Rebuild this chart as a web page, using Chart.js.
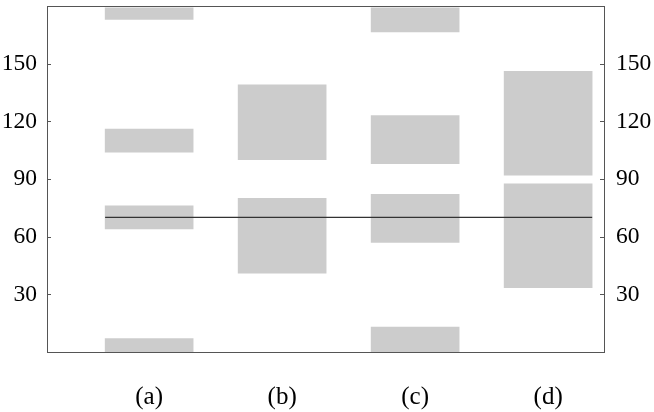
<!DOCTYPE html>
<html>
<head>
<meta charset="utf-8">
<script src="https://cdn.jsdelivr.net/npm/chart.js@4"></script>
<style>
  html, body { margin: 0; padding: 0; background: #fff; }
  canvas { display: block; }
</style>
</head>
<body>
<canvas id="c" width="654" height="412"></canvas>
<script>
// ---- data ----
const categories = ['(a)', '(b)', '(c)', '(d)'];
const rangesA = [[0, 7], [64, 76], [104, 116], [173, 179]];
const rangesB = [[41, 80], [100, 139]];
const rangesC = [[0, 13], [57, 82], [98, 123], [166.5, 179]];
const rangesD = [[33.5, 87.5], [92, 146]];
const referenceLevel = 70;
const yTicks = [30, 60, 90, 120, 150];

// ---- build ----
const allRanges = [rangesA, rangesB, rangesC, rangesD];
const barPoints = [];
allRanges.forEach((list, i) => {
  list.forEach(r => barPoints.push({ x: i + 1, y: r }));
});

const BAR_PX = 88;
const X_MIN = 0.232, X_MAX = 4.42;
const halfBarUnits = 0.331;
const refLine = [
  { x: 1 - halfBarUnits, y: referenceLevel },
  { x: categories.length + halfBarUnits, y: referenceLevel }
];

const frameColor = '#555555';
const tickFont = { family: "'Liberation Serif', 'DejaVu Serif', serif", size: 23.5 };
const catFont = { family: "'Liberation Serif', 'DejaVu Serif', serif", size: 25 };

const innerTicks = {
  id: 'innerTicks',
  afterDraw(chart) {
    const ctx = chart.ctx;
    const a = chart.chartArea;
    const ys = chart.scales.y;
    ctx.save();
    ctx.strokeStyle = frameColor;
    ctx.lineWidth = 1;
    yTicks.forEach(v => {
      const py = Math.round(ys.getPixelForValue(v)) + 0.5;
      ctx.beginPath();
      ctx.moveTo(a.left, py); ctx.lineTo(a.left + 4, py);
      ctx.moveTo(a.right, py); ctx.lineTo(a.right - 4, py);
      ctx.stroke();
    });
    ctx.restore();
  }
};

const labelCb = function (value) {
  return yTicks.includes(value) ? String(value) : '';
};
const zeroPad = s => { s.paddingTop = 0; s.paddingBottom = 0; s.paddingLeft = 0; s.paddingRight = 0; };

new Chart(document.getElementById('c'), {
  data: {
    datasets: [
      {
        type: 'line',
        data: refLine,
        borderColor: '#333333',
        borderWidth: 1.2,
        pointRadius: 0,
        order: 0,
        xAxisID: 'x',
        yAxisID: 'y'
      },
      {
        type: 'bar',
        data: barPoints,
        backgroundColor: '#cccccc',
        borderWidth: 0,
        barThickness: BAR_PX,
        grouped: false,
        order: 1,
        xAxisID: 'x',
        yAxisID: 'y'
      }
    ]
  },
  options: {
    responsive: false,
    animation: false,
    events: [],
    layout: { padding: { top: 6, left: 0, right: 0, bottom: 0 } },
    plugins: { legend: { display: false }, tooltip: { enabled: false } },
    scales: {
      x: {
        type: 'linear',
        position: 'bottom',
        offset: false,
        min: X_MIN, max: X_MAX,
        grid: { display: false, drawTicks: false, offset: false },
        border: { display: true, color: frameColor, width: 1 },
        afterBuildTicks: s => { s.ticks = categories.map((_, i) => ({ value: i + 1 })); },
        ticks: {
          callback: v => categories[v - 1] || '',
          font: catFont, color: '#000', padding: 30, maxRotation: 0, autoSkip: false
        },
        afterFit: s => { s.height = 60; zeroPad(s); }
      },
      x2: {
        type: 'linear',
        position: 'top',
        offset: false,
        min: X_MIN, max: X_MAX,
        grid: { display: false, drawTicks: false, offset: false },
        border: { display: true, color: frameColor, width: 1 },
        ticks: { display: false },
        afterFit: s => { s.height = 0; zeroPad(s); }
      },
      y: {
        type: 'linear',
        position: 'left',
        min: 0, max: 180,
        grid: { display: false, drawTicks: false },
        border: { display: true, color: frameColor, width: 1 },
        ticks: { stepSize: 30, callback: labelCb, font: tickFont, color: '#000', padding: 10 },
        afterFit: s => { s.width = 47; zeroPad(s); }
      },
      y2: {
        type: 'linear',
        position: 'right',
        min: 0, max: 180,
        grid: { display: false, drawTicks: false },
        border: { display: true, color: frameColor, width: 1 },
        ticks: { stepSize: 30, callback: labelCb, font: tickFont, color: '#000', padding: 12 },
        afterFit: s => { s.width = 50; zeroPad(s); }
      }
    }
  },
  plugins: [innerTicks]
});
</script>
</body>
</html>
